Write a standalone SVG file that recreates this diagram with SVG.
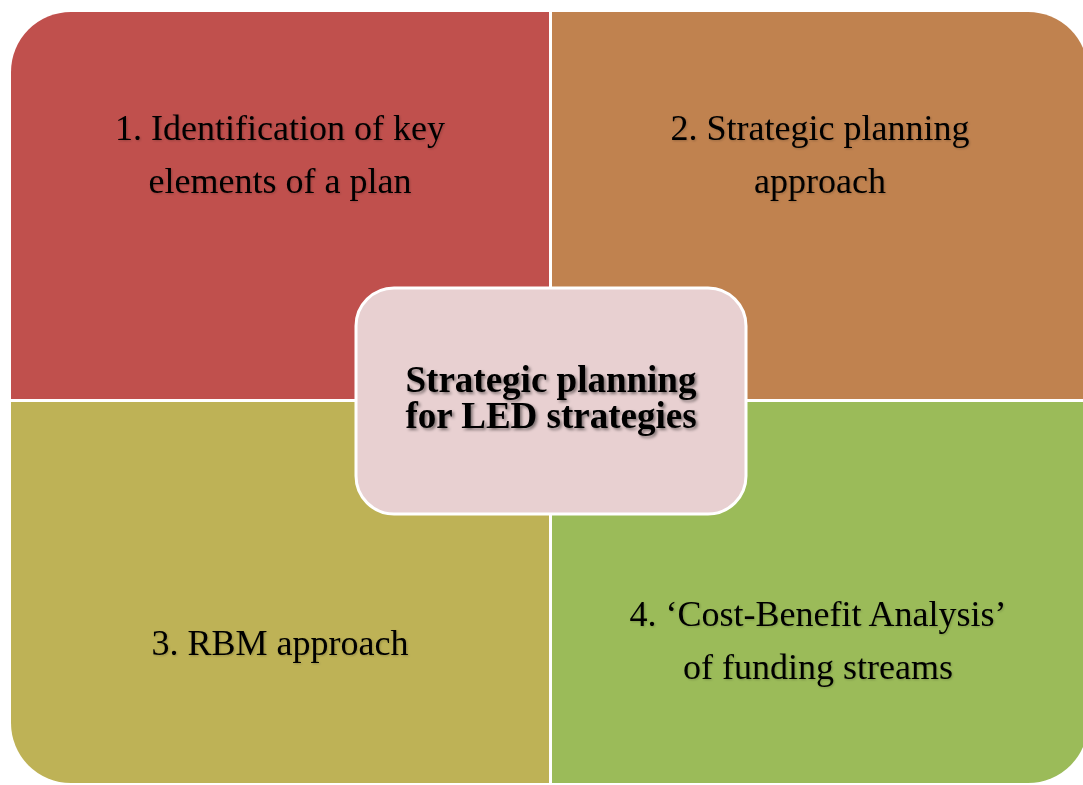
<svg xmlns="http://www.w3.org/2000/svg" width="1083" height="785" viewBox="0 0 1083 785">
  <defs>
    <filter id="shadow" x="-10%" y="-20%" width="120%" height="140%">
      <feDropShadow dx="2" dy="2" stdDeviation="1.5" flood-color="#000" flood-opacity="0.45"/>
    </filter>
    <filter id="soft" x="-10%" y="-20%" width="120%" height="140%">
      <feDropShadow dx="1" dy="1" stdDeviation="1" flood-color="#000" flood-opacity="0.2"/>
    </filter>
  </defs>
  <style>
    .q { stroke: none; }
    .lbl { font-family: "Liberation Serif", "Times New Roman", serif; font-size: 36px; fill: #000; text-anchor: middle; }
    .ctr { font-family: "Liberation Serif", "Times New Roman", serif; font-size: 37px; font-weight: bold; fill: #000; text-anchor: middle; }
  </style>
  <rect width="1083" height="785" fill="#ffffff"/>
  <g id="node-1">
    <path class="q" fill="#C0504D" d="M11,72 A60,60 0 0 1 71,12 L549,12 L549,399 L11,399 Z"/>
    <text class="lbl" filter="url(#soft)"><tspan x="280" y="140">1. Identification of key</tspan><tspan x="280" y="193">elements of a plan</tspan></text>
  </g>
  <g id="node-2">
    <path class="q" fill="#C0824F" d="M552,12 L1028,12 A60,60 0 0 1 1088,72 L1088,399 L552,399 Z"/>
    <text class="lbl" filter="url(#soft)"><tspan x="820" y="140">2. Strategic planning</tspan><tspan x="820" y="193">approach</tspan></text>
  </g>
  <g id="node-3">
    <path class="q" fill="#BEB256" d="M11,402 L549,402 L549,783 L71,783 A60,60 0 0 1 11,723 Z"/>
    <text class="lbl" filter="url(#soft)"><tspan x="280" y="655">3. RBM approach</tspan></text>
  </g>
  <g id="node-4">
    <path class="q" fill="#9BBB59" d="M552,402 L1088,402 L1088,723 A60,60 0 0 1 1028,783 L552,783 Z"/>
    <text class="lbl" filter="url(#soft)"><tspan x="818" y="626">4. ‘Cost-Benefit Analysis’</tspan><tspan x="818" y="679">of funding streams</tspan></text>
  </g>
  <g id="connectors"></g>
  <g id="node-center">
    <rect x="356" y="288" width="390" height="226" rx="38" ry="38" fill="#E8D0D1" stroke="#ffffff" stroke-width="3"/>
    <text class="ctr" filter="url(#shadow)"><tspan x="551" y="392">Strategic planning</tspan><tspan x="551" y="428">for LED strategies</tspan></text>
  </g>
</svg>
